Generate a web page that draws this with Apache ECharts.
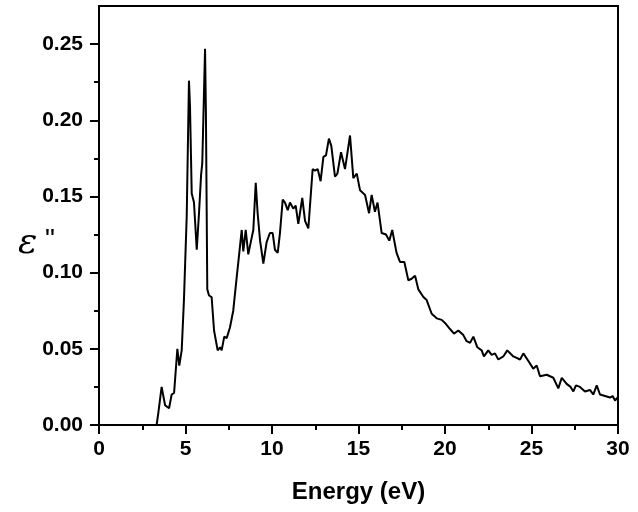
<!DOCTYPE html>
<html>
<head>
<meta charset="utf-8">
<script src="https://cdn.jsdelivr.net/npm/echarts@6/dist/echarts.min.js"></script>
<style>
    html, body { margin: 0; padding: 0; background: #fff; }
    #chart { width: 638px; height: 512px; }
</style>
</head>
<body>
<div id="chart"></div>
<script>
const energy = [
    3.33, 3.43, 3.62, 3.82, 4.05, 4.2, 4.34, 4.53, 4.64, 4.78, 4.91, 5.07, 5.2, 5.26, 5.36, 5.49,
    5.65, 5.78, 5.9, 5.97, 6.13, 6.18, 6.26, 6.36, 6.51, 6.65, 6.86, 7.0, 7.09, 7.24, 7.38, 7.57,
    7.76, 7.96, 8.11, 8.25, 8.34, 8.48, 8.63, 8.79, 8.92, 9.06, 9.17, 9.31, 9.5, 9.69, 9.88, 10.04,
    10.17, 10.33, 10.46, 10.62, 10.75, 10.91, 11.04, 11.23, 11.37, 11.52, 11.75, 11.91, 12.1, 12.35,
    12.48, 12.64, 12.81, 12.97, 13.12, 13.29, 13.43, 13.64, 13.78, 13.99, 14.22, 14.51, 14.7, 14.9,
    15.09, 15.38, 15.61, 15.76, 15.95, 16.1, 16.34, 16.59, 16.78, 16.95, 17.2, 17.4, 17.65, 17.88,
    18.07, 18.27, 18.46, 18.75, 18.94, 19.23, 19.52, 19.81, 20.0, 20.29, 20.52, 20.77, 21.06, 21.25,
    21.45, 21.64, 21.87, 22.12, 22.25, 22.5, 22.7, 22.89, 23.08, 23.37, 23.6, 23.95, 24.34, 24.53,
    24.82, 25.1, 25.3, 25.49, 25.88, 26.26, 26.55, 26.75, 27.03, 27.26, 27.42, 27.57, 27.8, 28.09,
    28.38, 28.57, 28.77, 28.96, 29.25, 29.54, 29.69, 29.83, 29.96
]
const epsilon2 = [
    0, 0.008, 0.025, 0.013, 0.011, 0.020, 0.021, 0.050, 0.039, 0.049, 0.082, 0.137, 0.226, 0.209, 0.152, 0.146,
    0.115, 0.139, 0.164, 0.172, 0.247, 0.205, 0.089, 0.085, 0.084, 0.062, 0.049, 0.051, 0.049, 0.058, 0.057, 0.064,
    0.075, 0.097, 0.113, 0.128, 0.114, 0.128, 0.112, 0.121, 0.128, 0.159, 0.139, 0.121, 0.106, 0.120, 0.126, 0.126,
    0.115, 0.113, 0.126, 0.148, 0.146, 0.141, 0.146, 0.142, 0.144, 0.132, 0.149, 0.134, 0.129, 0.168,
    0.167, 0.168, 0.160, 0.176, 0.177, 0.188, 0.183, 0.163, 0.165, 0.179, 0.168, 0.190, 0.162, 0.165,
    0.154, 0.151, 0.139, 0.151, 0.140, 0.146, 0.126, 0.125, 0.121, 0.128, 0.113, 0.107, 0.107, 0.095,
    0.096, 0.098, 0.089, 0.084, 0.082, 0.073, 0.070, 0.069, 0.067, 0.063, 0.060, 0.062, 0.059, 0.055,
    0.054, 0.058, 0.051, 0.049, 0.045, 0.049, 0.046, 0.047, 0.043, 0.045, 0.049, 0.045, 0.043, 0.047,
    0.042, 0.037, 0.039, 0.032, 0.033, 0.031, 0.024, 0.031, 0.027, 0.025, 0.022, 0.026, 0.025, 0.022,
    0.023, 0.020, 0.026, 0.020, 0.019, 0.018, 0.019, 0.016, 0.018
]
const yTicks = [0, 0.05, 0.1, 0.15, 0.2, 0.25]
const yMinorTicks = [0.025, 0.075, 0.125, 0.175, 0.225]

const labelFont = {
    color: '#000',
    fontFamily: 'Liberation Sans, Arial, sans-serif',
    fontWeight: 'bold',
    fontSize: 21
}

const myChart = echarts.init(document.getElementById('chart'))
const option = {
    animation: false,
    grid: {
        left: 99,
        right: 20,
        top: 6,
        bottom: 87,
        show: true,
        borderColor: '#000',
        borderWidth: 2
    },
    xAxis: {
        type: 'value',
        min: 0,
        max: 30,
        interval: 5,
        name: 'Energy (eV)',
        nameLocation: 'middle',
        nameGap: 55,
        nameTextStyle: {
            color: '#000',
            fontFamily: 'Liberation Sans, Arial, sans-serif',
            fontWeight: 'bold',
            fontSize: 24
        },
        splitLine: { show: false },
        axisLine: { lineStyle: { color: '#000', width: 2 } },
        axisTick: { inside: false, length: 9, lineStyle: { color: '#000', width: 2 } },
        minorTick: { show: true, splitNumber: 2, length: 5, lineStyle: { color: '#000', width: 2 } },
        axisLabel: Object.assign({ margin: 14, formatter: v => String(v) }, labelFont)
    },
    yAxis: [
        {
            type: 'value',
            min: 0,
            max: 0.275,
            splitLine: { show: false },
            axisLine: { show: true, lineStyle: { color: '#000', width: 2 } },
            axisTick: { show: true, length: 9, customValues: yTicks, lineStyle: { color: '#000', width: 2 } },
            axisLabel: Object.assign({
                margin: 16,
                customValues: yTicks,
                formatter: v => v.toFixed(2)
            }, labelFont)
        },
        {
            // minor ticks only
            type: 'value',
            position: 'left',
            min: 0,
            max: 0.275,
            splitLine: { show: false },
            axisLine: { show: false },
            axisTick: { show: true, length: 5, customValues: yMinorTicks, lineStyle: { color: '#000', width: 2 } },
            axisLabel: { show: false }
        }
    ],
    graphic: [
        {
            type: 'text',
            left: 18,
            top: 226,
            style: {
                text: '{e|ε}{q| "}',
                rich: {
                    e: { fontFamily: 'DejaVu Serif, serif', fontStyle: 'italic', fontSize: 36, fill: '#000' },
                    q: { fontFamily: 'Liberation Sans, Arial, sans-serif', fontSize: 28, fill: '#000', verticalAlign: 'top' }
                }
            }
        }
    ],
    series: [
        {
            type: 'line',
            showSymbol: false,
            clip: true,
            lineStyle: { color: '#000', width: 2 },
            data: energy.map((e, i) => [e, epsilon2[i]])
        }
    ]
}
myChart.setOption(option)
</script>
</body>
</html>
